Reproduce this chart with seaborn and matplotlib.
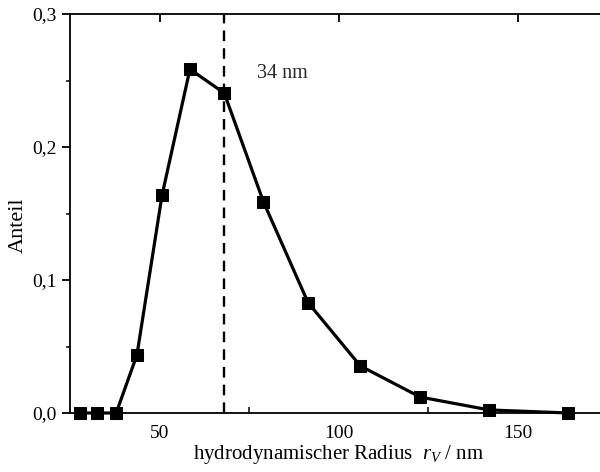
import matplotlib
matplotlib.use("Agg")
import matplotlib.pyplot as plt
from matplotlib.ticker import FixedLocator, FuncFormatter
import seaborn as sns
import pandas as pd

# Hydrodynamic radius distribution (volume-weighted)
radius_nm = [27.8, 32.5, 37.9, 43.7, 50.7, 58.5, 68.1, 79.0, 91.5, 106.1, 122.8, 142.1, 164.2]
fraction = [0.0, 0.0, 0.0, 0.0437, 0.1636, 0.2585, 0.2405, 0.159, 0.083, 0.0354, 0.012, 0.0023, 0.0]
peak_marker = 67.9
peak_label = "34 nm"
x_ticks = [50, 100, 150]
y_ticks = [0.0, 0.1, 0.2, 0.3]

sns.set_theme(style="white")
plt.rcParams["font.family"] = ["Liberation Serif", "DejaVu Serif"]
plt.rcParams["mathtext.fontset"] = "custom"
plt.rcParams["mathtext.rm"] = "Liberation Serif"
plt.rcParams["mathtext.it"] = "Liberation Serif:italic"

df = pd.DataFrame({"r": radius_nm, "anteil": fraction})

fig = plt.figure(figsize=(6.0, 4.72), dpi=100)
ax = fig.add_axes([70 / 600, 59 / 472, 537 / 600, 399 / 472])

sns.lineplot(data=df, x="r", y="anteil", ax=ax, color="black", linewidth=2.3,
             marker="s", markersize=9, markeredgecolor="black", markerfacecolor="black",
             clip_on=False, zorder=3)

ax.axvline(peak_marker, color="black", linestyle=(0, (4.5, 3)), linewidth=1.7, zorder=2)
ax.text(77.3, 0.2555, peak_label, fontsize=14.5, ha="left", va="center")

ax.set_xlim(25, 175)
ax.set_ylim(0, 0.3)

ax.xaxis.set_major_locator(FixedLocator(x_ticks))
ax.xaxis.set_minor_locator(FixedLocator([75, 125, 175]))
ax.yaxis.set_major_locator(FixedLocator(y_ticks))
ax.yaxis.set_minor_locator(FixedLocator([0.05, 0.15, 0.25]))
ax.yaxis.set_major_formatter(FuncFormatter(lambda v, p: f"{v:.1f}".replace(".", ",")))

for side in ["left", "bottom", "top"]:
    ax.spines[side].set_color("black")
    ax.spines[side].set_linewidth(1.3)
ax.spines["right"].set_visible(False)

ax.tick_params(axis="x", which="major", direction="out", length=6, width=1.3,
               labelsize=14, colors="black", pad=3, top=True)
ax.tick_params(axis="x", which="minor", direction="in", length=4, width=1.3,
               bottom=True, top=False)
ax.tick_params(axis="y", which="major", direction="out", length=6, width=1.3,
               labelsize=14, colors="black", left=True)
ax.tick_params(axis="y", which="minor", direction="out", length=3, width=1.3, left=True)
for t in ax.xaxis.get_major_ticks():
    t.tick2line.set_marker(3)  # top ticks point into the plot

ax.set_xlabel("hydrodynamischer Radius  $r_V$ / nm", fontsize=15, color="black", labelpad=0)
ax.set_ylabel("Anteil", fontsize=16, color="black")
ax.yaxis.set_label_coords(-0.078, 0.47)

fig.savefig("out.png", dpi=100)
